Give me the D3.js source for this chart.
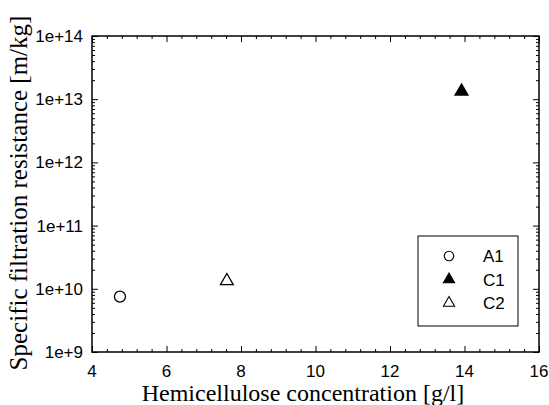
<!DOCTYPE html>
<html>
<head>
	<meta charset="utf-8">
	<script src="https://cdn.jsdelivr.net/npm/d3@7"></script>
	<title>Specific filtration resistance</title>
	<style>
		body { margin: 0; background: #fff; }
		text { fill: #000; }
	</style>
</head>
<body>
	<script>
		// data
		var samples = ['A1', 'C1', 'C2'];
		var concentration = [4.75, 13.92, 7.62];          // g/l
		var resistance = [7.5e9, 1.33e13, 1.33e10];       // m/kg
		var xTicks = [4, 6, 8, 10, 12, 14, 16];
		var yTicks = [1e9, 1e10, 1e11, 1e12, 1e13, 1e14];

		var svgWidth = 549, svgHeight = 405;
		var plotLeft = 92, plotRight = 539, plotTop = 36, plotBottom = 352;

		var svg = d3.select('body').append('svg')
			.attr('width', svgWidth)
			.attr('height', svgHeight);

		var xScale = d3.scaleLinear().domain([4, 16]).range([plotLeft, plotRight]);
		var yScale = d3.scaleLog().domain([1e9, 1e14]).range([plotBottom, plotTop]);

		// minor ticks: 5 steps between labelled x ticks, 2..9 inside each decade
		var xMinor = d3.range(4, 16.01, 0.4).filter(function (v) { return Math.abs(v / 2 - Math.round(v / 2)) > 1e-6; });
		var yMinor = [];
		yTicks.slice(0, -1).forEach(function (t) {
			for (var k = 2; k < 10; k++) yMinor.push(t * k);
		});

		var g = svg.append('g');

		function drawTicks(gen, tr, values, len) {
			g.append('g')
				.attr('transform', tr)
				.call(gen.tickValues(values).tickSize(len).tickFormat(''))
				.call(function (s) {
					s.select('.domain').remove();
					s.selectAll('line').attr('stroke', '#000').attr('stroke-width', 1);
				});
		}

		var axes = [
			{ gen: function () { return d3.axisTop(xScale); }, tr: 'translate(0,' + plotBottom + ')', x: true },
			{ gen: function () { return d3.axisBottom(xScale); }, tr: 'translate(0,' + plotTop + ')', x: true },
			{ gen: function () { return d3.axisRight(yScale); }, tr: 'translate(' + plotLeft + ',0)', x: false },
			{ gen: function () { return d3.axisLeft(yScale); }, tr: 'translate(' + plotRight + ',0)', x: false }
		];
		axes.forEach(function (a) {
			drawTicks(a.gen(), a.tr, a.x ? xTicks : yTicks, 6);
			drawTicks(a.gen(), a.tr, a.x ? xMinor : yMinor, 3);
		});

		// frame
		g.append('rect')
			.attr('x', plotLeft).attr('y', plotTop)
			.attr('width', plotRight - plotLeft).attr('height', plotBottom - plotTop)
			.attr('fill', 'none').attr('stroke', '#000').attr('stroke-width', 1.5);

		// tick labels
		svg.append('g').selectAll('text').data(xTicks).enter().append('text')
			.attr('x', function (d) { return xScale(d); })
			.attr('y', plotBottom + 25)
			.attr('text-anchor', 'middle')
			.attr('font-family', 'Liberation Sans, Arial, sans-serif')
			.attr('font-size', 17)
			.text(function (d) { return d; });

		svg.append('g').selectAll('text').data(yTicks).enter().append('text')
			.attr('x', plotLeft - 9)
			.attr('y', function (d) { return yScale(d) + 6; })
			.attr('text-anchor', 'end')
			.attr('font-family', 'Liberation Sans, Arial, sans-serif')
			.attr('font-size', 17)
			.text(function (d) { return '1e+' + Math.round(Math.log10(d)); });

		// axis titles
		svg.append('text')
			.attr('x', 303).attr('y', 401)
			.attr('text-anchor', 'middle')
			.attr('font-family', 'Liberation Serif, Times New Roman, serif')
			.attr('font-size', 24)
			.text('Hemicellulose concentration [g/l]');

		svg.append('text')
			.attr('transform', 'translate(27,193) rotate(-90)')
			.attr('text-anchor', 'middle')
			.attr('font-family', 'Liberation Serif, Times New Roman, serif')
			.attr('font-size', 25)
			.text('Specific filtration resistance [m/kg]');

		// symbols
		var symbols = {
			A1: { type: d3.symbolCircle, fill: 'none' },
			C1: { type: d3.symbolTriangle, fill: '#000' },
			C2: { type: d3.symbolTriangle, fill: 'none' }
		};
		function symbolPath(name, scale) {
			var s = symbols[name];
			return d3.symbol().type(s.type).size((s.type === d3.symbolCircle ? 95 : 72) * scale)();
		}

		svg.append('g').selectAll('path').data(samples).enter().append('path')
			.attr('transform', function (d, i) { return 'translate(' + xScale(concentration[i]) + ',' + yScale(resistance[i]) + ')'; })
			.attr('d', function (d) { return symbolPath(d, 1); })
			.attr('fill', function (d) { return symbols[d].fill; })
			.attr('stroke', '#000')
			.attr('stroke-width', 1.3);

		// legend
		var legend = svg.append('g').attr('transform', 'translate(418,236)');
		legend.append('rect')
			.attr('width', 100).attr('height', 90)
			.attr('fill', '#fff').attr('stroke', '#000').attr('stroke-width', 1);
		var rows = legend.selectAll('g.row').data(samples).enter().append('g')
			.attr('class', 'row')
			.attr('transform', function (d, i) { return 'translate(0,' + (20 + i * 23.5) + ')'; });
		rows.append('path')
			.attr('transform', 'translate(31,0)')
			.attr('d', function (d) { return symbolPath(d, 0.75); })
			.attr('fill', function (d) { return symbols[d].fill; })
			.attr('stroke', '#000')
			.attr('stroke-width', 1.1);
		rows.append('text')
			.attr('x', 65).attr('y', 6)
			.attr('font-family', 'Liberation Sans, Arial, sans-serif')
			.attr('font-size', 17)
			.text(function (d) { return d; });
	</script>
</body>
</html>
